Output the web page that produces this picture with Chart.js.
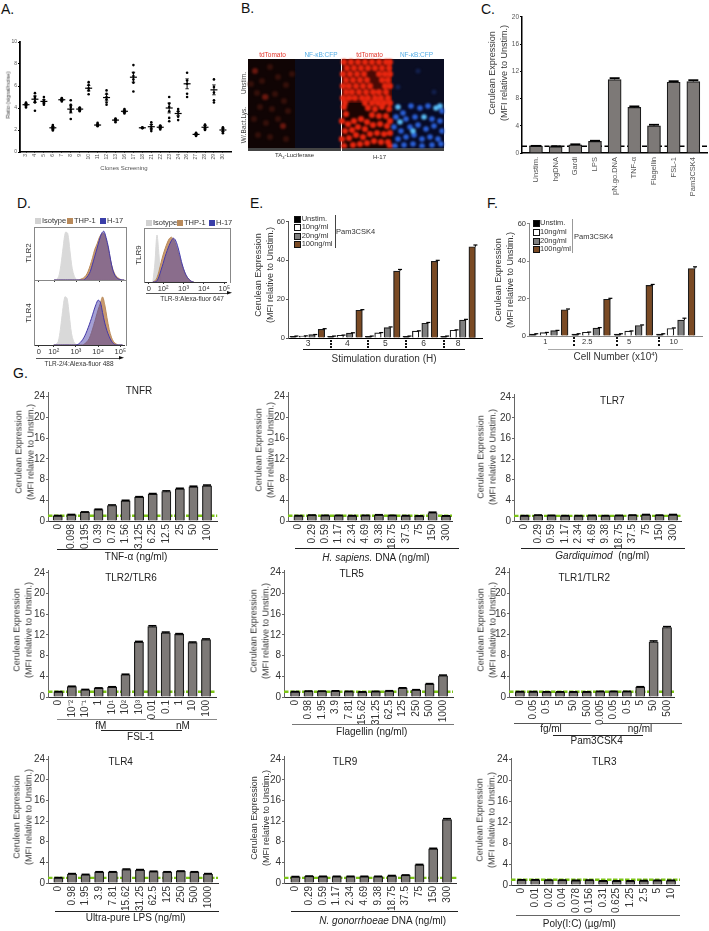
<!DOCTYPE html>
<html>
<head>
<meta charset="utf-8">
<title>Figure</title>
<script src="https://cdn.jsdelivr.net/npm/chart.js@4"></script>
<style>
  html, body { margin: 0; padding: 0; background: #fff; }
  #page { position: relative; width: 709px; height: 931px; overflow: hidden; font-family: "Liberation Sans", Arial, sans-serif; color: #222; filter: blur(0.3px); background: #fff; }
  #page canvas { position: absolute; }
  .t { position: absolute; white-space: nowrap; text-align: center; }
  .r { position: absolute; }
</style>
</head>
<body>
<div id="page"></div>
<script>
// Panel A - clone screening
const cloneLabels = ['3','4','5','6','7','8','9','10','11','12','13','16','17','18','21','22','23','24','26','27','28','29','30'];
const cloneMeans = [4.3,4.8,4.6,2.2,4.75,3.9,3.9,5.8,2.45,4.95,2.9,3.7,6.8,2.2,2.3,2.25,4.0,3.5,6.2,1.6,2.25,5.65,2.0];
const cloneErrs = [0.1,0.3,0.15,0.1,0.07,0.35,0.1,0.25,0.06,0.3,0.06,0.1,0.45,0.03,0.2,0.1,0.45,0.2,0.45,0.07,0.15,0.45,0.15];
const clonePoints = [
  [4.05,4.2,4.3,4.4,4.5],[3.75,4.5,4.6,4.9,5.05,5.35],[4.3,4.45,4.6,4.75,5.0],[1.95,2.05,2.15,2.25,2.35,2.45],
  [4.6,4.7,4.75,4.85,4.9],[3.0,3.65,3.85,4.1,4.3,4.7],[3.7,3.8,3.9,4.0,4.05],[5.25,5.6,5.8,6.1,6.35],
  [2.35,2.4,2.5,2.55,2.65],[4.3,4.5,4.8,5.0,5.3,5.6],[2.7,2.85,2.9,3.0,3.05],[3.5,3.6,3.7,3.8,3.9],
  [5.5,6.3,6.6,6.9,7.2,7.9],[2.15,2.2,2.2,2.25],[1.9,2.1,2.3,2.5,2.7],[2.05,2.2,2.25,2.35,2.4],
  [2.8,3.1,3.7,4.1,4.4,5.0],[2.9,3.2,3.5,3.7,3.9],[5.0,5.3,6.2,6.5,7.2],[1.45,1.55,1.6,1.7,1.75],
  [2.0,2.1,2.25,2.4,2.5],[4.5,4.7,5.4,5.9,6.6],[1.7,1.85,2,2.1,2.25]
];

// Panel B - cells seen in the micrographs
const dimRedCells = [[22,8],[14,22],[30,18],[38,26],[9,34],[18,38],[27,35],[36,42],[12,48],[24,50],[40,52],[6,60],[18,64],[30,60],[10,76],[22,78],[38,80],[44,15],[3,25]];
const midRedCells = [[7,12],[35,67],[17,38]];
const redCells = [
  [96,3],[103,3],[110,3],[117,3],[124,3],[131,3],[138,3],[142,3],[99,9],[106,9],[113,9],[120,9],[127,9],[134,9],[141,9],
  [95,15],[102,15],[109,15],[116,15],[131,15],[137,15],[142,15],[98,21],[105,21],[112,21],[119,21],[134,21],[140,21],
  [95,27],[101,27],[108,27],[115,27],[122,27],[137,27],[142,27],[98,33],[104,33],[111,33],[118,33],[125,33],[131,33],[138,33],
  [95,39],[101,39],[107,39],[114,39],[120,39],[127,39],[133,39],[140,39],[97,44],[117,44],[124,44],[130,44],[136,44],[142,44],
  [96,48],[98,55],[120,49],[127,50],[134,48],[141,50],[124,56],[131,57],[138,57],[94,62],[100,65],[106,62],[113,60],[119,63],[142,62],
  [97,72],[104,71],[110,68],[117,70],[125,66],[132,65],[139,67],[94,80],[101,79],[108,76],[115,78],[122,75],[129,74],[136,75],[142,74],
  [105,86],[112,85],[119,84],[126,82],[133,83],[140,83],[96,87],[142,87]
];
const blueCells = [[155,54],[163,47],[172,49],[180,47],[194,52],[148,58],[158,60],[167,58],[184,60],[192,62],[146,68],[153,72],[162,68],[170,66],[178,70],[186,67],[194,72],[150,80],[158,78],[166,76],[174,80],[182,78],[190,80],[147,87],[156,86],[165,85],[174,87],[184,86],[193,85]];
const brightBlueCells = [[188,49],[192,47],[152,63],[150,48],[165,72],[176,58]];
const faintBlueCells = [[186,33],[170,12],[150,28]];

// Panel C
const stimLabels = ['Unstim.','hgDNA','Gardi','LPS','pN.go.DNA','TNF-\u03b1','Flagellin','FSL-1','Pam3CSK4'];
const stimValues = [1,0.95,1.2,1.7,10.8,6.7,4,10.4,10.5];
const stimErrs = [0.05,0.05,0.08,0.1,0.2,0.15,0.15,0.15,0.2];

// Panel D - flow histograms, x is decades on the biexponential axis
const flowGrid = [2.0,2.1,2.2,2.3,2.4,2.5,2.6,2.7,2.8,2.9,3.0,3.1,3.2,3.3,3.4,3.5,3.6,3.7,3.8,3.9,4.0,4.1,4.2,4.3,4.4,4.5,4.6,4.7,4.8,4.9,5.0,5.1];
const tlr2Iso = [0,.01,.06,.28,.62,.9,.88,.55,.22,.06,.01,0,0,0,0,0,0,0,0,0,0,0,0,0,0,0,0,0,0,0,0,0];
const tlr2Thp = [0,0,0,0,0,0,0,0,0,0,0,0,.02,.04,.08,.16,.28,.42,.58,.68,.8,.87,.88,.76,.58,.36,.2,.1,.05,.02,0,0];
const tlr2H17 = [0,0,0,0,0,0,0,0,0,0,0,0,0,0,.03,.08,.16,.3,.45,.6,.75,.88,.92,.8,.62,.38,.18,.08,.03,.01,0,0];
const tlr4Iso = [0,.01,.05,.24,.52,.74,.72,.46,.18,.05,.01,0,0,0,0,0,0,0,0,0,0,0,0,0,0,0,0,0,0,0,0,0];
const tlr4Thp = [0,0,0,0,0,0,0,0,0,0,0,0,0,0,.02,.05,.1,.19,.3,.42,.54,.64,.74,.62,.42,.24,.12,.05,.02,0,0,0];
const tlr4H17 = [0,0,0,0,0,0,0,0,0,0,0,.01,.04,.08,.14,.22,.31,.41,.52,.62,.69,.66,.5,.34,.22,.13,.06,.02,0,0,0,0];
const tlr9Grid = [1.5,1.6,1.7,1.8,1.9,2.0,2.1,2.2,2.3,2.4,2.5,2.6,2.7,2.8,2.9,3.0,3.1,3.2,3.3,3.4,3.5];
const tlr9Iso = [0,.35,.87,.5,.03,0,0,0,0,0,0,0,0,0,0,0,0,0,0,0,0];
const tlr9Thp = [0,.02,.08,.2,.36,.5,.62,.72,.8,.83,.8,.72,.6,.47,.34,.23,.14,.08,.04,.01,0];
const tlr9H17 = [0,0,.02,.1,.22,.34,.47,.58,.68,.76,.81,.78,.68,.54,.38,.25,.15,.08,.04,.01,0];

// Panels E and F
const durationLabels = ['3','4','5','6','8'];
const durationValues = [0.8,1,1.7,4.5, 0.8,1.4,2.5,14.3, 0.8,2.6,5.4,34.5, 0.8,3.5,7.6,39.5, 0.8,4,9.2,47];
const durationErrs = [0.2,0.1,0.1,0.3, 0.2,0.1,0.2,0.3, 0.2,0.2,0.3,0.8, 0.2,0.2,0.4,0.5, 0.2,0.2,0.4,0.9];
const cellLabels = ['1','2.5','5','10'];
const cellValues = [1,1.8,2.9,14, 1,2,4.2,19.6, 1,2.6,5.6,27, 1,4,8.5,36];
const cellErrs = [0.2,0.1,0.1,0.4, 0.2,0.1,0.3,0.5, 0.2,0.1,0.3,0.5, 0.2,0.3,1,0.9];

// Panel G
const tnfDoses = ['0','0.098','0.195','0.39','0.78','1.56','3.125','6.25','12.5','25','50','100'];
const dnaDoses = ['0','0.29','0.59','1.17','2.34','4.69','9.38','18.75','37.5','75','150','300'];
const fslDoses = ['0','10\u207b\u00b2','10\u207b\u00b9','1','10\u00b9','10\u00b2','10\u00b3','0.01','0.1','1','10','100'];
const bacterialDoses = ['0','0.98','1.95','3.9','7.81','15.62','31.25','62.5','125','250','500','1000'];
const pamDoses = ['0','0.05','0.5','5','50','500','0.005','0.05','0.5','5','50','500'];
const polyDoses = ['0','0.01','0.02','0.04','0.078','0.156','0.31','0.625','1.25','2.5','5','10'];
const tnfrValues = [1,1.2,1.7,2.2,3,3.9,4.6,5.2,5.7,6.2,6.6,6.8];
const hsapiensValues = [1,1.1,1.05,1.05,1,1.05,1.15,1.05,1,0.95,1.6,0.95];
const tlr7Values = [1,1.1,1.05,1,1,1.05,1,1.05,1.1,1.2,1.1,1.2];
const tlr26Values = [1,2,1.4,1.7,1.9,4.3,10.6,13.6,12.4,12.1,10.5,11.1];
const tlr5Values = [1,1.1,1.1,1.15,1.05,0.95,1.05,1.15,1.7,1.35,2.5,4.1];
const tlr12Values = [1,1,0.95,0.95,0.95,0.95,1.05,1.05,1.05,1.9,10.6,13.4];
const tlr4Values = [1,1.75,1.6,2.1,2.1,2.6,2.5,2.2,2.1,2.25,2.1,1.75];
const tlr9Values = [1.2,1.3,1.25,1.25,1.25,1.25,1.25,1.4,1.5,3.5,6.6,12.3];
const tlr3Values = [0.95,0.95,0.9,0.9,0.85,0.9,0.75,0.75,0.75,0.8,0.85,0.85];
const tnfrErrs = [0.05,0.06,0.06,0.08,0.1,0.1,0.1,0.1,0.12,0.12,0.12,0.14];
const hsapiensErrs = [0.05,0.06,0.05,0.05,0.05,0.05,0.06,0.05,0.05,0.05,0.1,0.05];
const tlr7Errs = [0.05,0.06,0.05,0.05,0.05,0.05,0.05,0.05,0.06,0.06,0.05,0.06];
const tlr26Errs = [0.05,0.08,0.06,0.06,0.08,0.1,0.14,0.16,0.14,0.14,0.12,0.12];
const tlr5Errs = [0.05,0.06,0.05,0.05,0.05,0.05,0.05,0.06,0.08,0.06,0.08,0.12];
const tlr12Errs = [0.05,0.05,0.05,0.05,0.05,0.05,0.05,0.05,0.05,0.08,0.2,0.16];
const tlr4Errs = [0.05,0.07,0.07,0.08,0.08,0.1,0.1,0.08,0.08,0.08,0.08,0.07];
const tlr9Errs = [0.05,0.05,0.05,0.05,0.05,0.05,0.05,0.05,0.06,0.1,0.12,0.16];
const tlr3Errs = [0.05,0.05,0.05,0.05,0.05,0.05,0.05,0.05,0.05,0.05,0.05,0.05];

const FONT = '"Liberation Sans", Arial, sans-serif';
const BAR_GREY = '#7d7977';
const GROUP_COLORS = ['#000000','#ffffff','#7f7f7f','#7a4a24'];
const page = document.getElementById('page');

// error whiskers, drawn from the same scales as the bars
const errorBars = {
    id: 'errorBars',
    afterDatasetsDraw(chart) {
        const { ctx, scales } = chart;
        chart.data.datasets.forEach(ds => {
            if (!ds.errs) return;
            ctx.save();
            ctx.strokeStyle = '#000';
            ds.data.forEach((p, i) => {
                const x = scales.x.getPixelForValue(p.x);
                const hi = scales.y.getPixelForValue(p.y + ds.errs[i]);
                const lo = scales.y.getPixelForValue(ds.bothWays ? p.y - ds.errs[i] : p.y);
                ctx.lineWidth = 1;
                ctx.beginPath();
                ctx.moveTo(x, lo);
                ctx.lineTo(x, hi);
                ctx.stroke();
                ctx.lineWidth = ds.capLine;
                ctx.beginPath();
                ctx.moveTo(x - ds.capWidth / 2, hi);
                ctx.lineTo(x + ds.capWidth / 2, hi);
                if (ds.bothWays) {
                    ctx.moveTo(x - ds.capWidth / 2, lo);
                    ctx.lineTo(x + ds.capWidth / 2, lo);
                }
                ctx.stroke();
            });
            ctx.restore();
        });
    }
};
Chart.register(errorBars);

function text(html, x, y, o = {}) {
    const el = document.createElement('div');
    el.className = 't';
    el.innerHTML = html;
    el.style.left = x + 'px';
    el.style.top = y + 'px';
    el.style.fontSize = (o.size || 10) + 'px';
    el.style.color = o.color || '#222';
    el.style.lineHeight = (o.lead || (o.size || 10) * 1.15) + 'px';
    const shift = o.left ? 'translate(0,-50%)' : 'translate(-50%,-50%)';
    el.style.transform = shift + (o.rot ? ' rotate(-90deg)' : '');
    page.appendChild(el);
}

function rect(x, y, w, h, color, extra) {
    const el = document.createElement('div');
    el.className = 'r';
    el.style.cssText = `left:${x}px;top:${y}px;width:${w}px;height:${h}px;background:${color};` + (extra || '');
    page.appendChild(el);
}

function addCanvas(left, top, width, height) {
    const c = document.createElement('canvas');
    c.width = width;
    c.height = height;
    c.style.left = left + 'px';
    c.style.top = top + 'px';
    page.appendChild(c);
    return c;
}

// Shared axis options. Both scale boxes are forced to a fixed size so the
// chart area lands on the axis position measured from the figure.
function axisOptions(a, yMax, yTicks, xTickList, xLabelText) {
    return {
        x: {
            type: 'linear',
            offset: false,
            min: a.xMin,
            max: a.xMax,
            afterBuildTicks: s => { s.ticks = xTickList.map(v => ({ value: v })); },
            afterFit: s => { s.height = a.bottomRoom; },
            border: { display: true, color: a.xColor, width: a.xWidth },
            grid: { display: true, drawOnChartArea: false, drawTicks: a.xTickLen > 0, tickLength: a.xTickLen, color: a.xColor, offset: false },
            ticks: {
                autoSkip: false,
                minRotation: a.rotate ? 90 : 0,
                maxRotation: a.rotate ? 90 : 0,
                padding: a.xPad,
                color: a.tickColor,
                font: { family: FONT, size: a.xFont },
                callback: (v, i) => xLabelText[i]
            }
        },
        y: {
            type: 'linear',
            min: 0,
            max: yMax,
            afterBuildTicks: s => { s.ticks = yTicks.map(v => ({ value: v })); },
            afterFit: s => { s.width = a.leftRoom; },
            border: { display: true, color: a.yColor, width: a.yWidth },
            grid: { display: true, drawOnChartArea: false, tickLength: 2, color: a.yColor },
            ticks: {
                padding: 1,
                color: a.tickColor,
                font: { family: FONT, size: a.yFont },
                callback: v => v
            }
        }
    };
}

function barPanel(values, errs, labels, a) {
    const n = values.length;
    const step = (a.last - a.first) / (n - 1);
    a.xMin = (a.axisX - a.first) / step;
    a.xMax = n - 1 + (a.xEnd - a.last) / step;
    const yTicks = a.yTicks || [0, 4, 8, 12, 16, 20, 24];
    const topTick = yTicks[yTicks.length - 1];
    const yMax = topTick * (a.y0 - a.yTop) / (a.y0 - a.yTopTick);
    const left = Math.round(a.axisX) - a.leftRoom;
    const top = Math.round(a.yTop);
    const width = Math.round(a.xEnd) - left;
    const height = Math.round(a.y0) - top + a.bottomRoom;
    const tickVals = a.tickPix ? a.tickPix.map(px => (px - a.first) / step) : labels.map((_, i) => i);
    new Chart(addCanvas(left, top, width, height), {
        type: 'bar',
        data: {
            datasets: [
                {
                    data: values.map((y, x) => ({ x, y })),
                    errs: errs,
                    capWidth: a.capWidth,
                    capLine: a.capLine,
                    backgroundColor: a.colors ? values.map((_, i) => a.colors[i % a.colors.length]) : BAR_GREY,
                    borderColor: '#1c1c1c',
                    borderWidth: 1.2,
                    barThickness: a.barW,
                    order: 1
                },
                a.refColor ? {
                    type: 'line',
                    data: [{ x: a.xMin, y: a.refLevel }, { x: a.xMax, y: a.refLevel }],
                    borderColor: a.refColor,
                    borderWidth: a.refWidth,
                    borderDash: a.refDash,
                    pointRadius: 0,
                    order: 2
                } : { data: [], order: 3 }
            ]
        },
        options: {
            responsive: false,
            animation: false,
            events: [],
            layout: { autoPadding: false, padding: 0 },
            plugins: { legend: { display: false }, tooltip: { enabled: false } },
            scales: axisOptions(a, yMax, yTicks, tickVals, labels)
        }
    });
}

// dose-response panels of G all look alike
function dosePanel(values, errs, labels, g) {
    barPanel(values, errs, labels, Object.assign({
        yTicks: [0, 4, 8, 12, 16, 20, 24], leftRoom: 34, bottomRoom: 44, barW: 9.2, capWidth: 8, capLine: 1.6,
        refColor: '#7cc516', refLevel: 1, refWidth: 2.4, refDash: [4.5, 1.5],
        xColor: '#333', xWidth: 1, yColor: '#666', yWidth: 1, xTickLen: 0, xPad: 3, rotate: true,
        tickColor: '#333', xFont: 10, yFont: 10
    }, g));
    text('Cerulean Expression<br>(MFI relative to Unstim.)', g.labelX, g.labelY, { size: 9, lead: 11.5, rot: true, color: '#333' });
}

function flowPanel(grid, series, a) {
    const colors = [
        { line: '#4338a8', fill: 'rgba(75,65,170,0.5)' },
        { line: '#b98a5a', fill: 'rgba(190,135,85,0.85)' },
        { line: '#d9d9d9', fill: '#d9d9d9' }
    ];
    const xLabels = a.showLabels ? ['0', '10\u00b2', '10\u00b3', '10\u2074', '10\u2075'] : ['', '', '', '', ''];
    const opts = {
        xMin: a.xMin, xMax: a.xMax, bottomRoom: 14, leftRoom: 0,
        xColor: '#333', xWidth: 1, yColor: '#888', yWidth: 1, xTickLen: 2, xPad: 0, rotate: false,
        tickColor: '#333', xFont: 7.5, yFont: 7
    };
    const scales = axisOptions(opts, 1, [0, 1], a.ticks, xLabels);
    scales.y.display = false;
    new Chart(addCanvas(a.x, a.y, a.w, a.h + 14), {
        type: 'line',
        data: {
            datasets: series.map((vals, i) => ({
                data: vals.map((y, k) => ({ x: grid[k], y })),
                borderColor: colors[i].line,
                backgroundColor: colors[i].fill,
                borderWidth: 1,
                fill: 'origin',
                pointRadius: 0,
                tension: 0.3
            }))
        },
        options: {
            responsive: false,
            animation: false,
            events: [],
            layout: { autoPadding: false, padding: 0 },
            plugins: { legend: { display: false }, tooltip: { enabled: false } },
            scales
        }
    });
    rect(a.x, a.y, a.w - 1, a.h, 'transparent', 'border:1px solid #888;border-bottom:none;');
}

function flowLegend(items, y) {
    const swatches = ['#d2d2d2', '#b98a5a', '#3a3ea8'];
    const names = ['Isotype', 'THP-1', 'H-17'];
    items.forEach((px, i) => {
        rect(px, y - 3, 6, 6, swatches[i]);
        text(names[i], px + 7, y, { size: 7.5, left: true, color: '#333' });
    });
}

function groupLegend(x, ys, textX) {
    ['Unstim.', '10ng/ml', '20ng/ml', '100ng/ml'].forEach((name, i) => {
        rect(x, ys[i] - 3, 5, 5, GROUP_COLORS[i], 'border:1px solid #111;');
        text(name, textX, ys[i], { size: 7.5, left: true, color: '#333' });
    });
}

function dotted(x, y1, y2) {
    rect(x, y1, 0, y2 - y1, 'transparent', 'border-left:2px dotted #111;');
}

/* ---------- panel letters ---------- */
[['A.', 1, 9], ['B.', 241, 8], ['C.', 481, 9], ['D.', 17, 203], ['E.', 250, 203], ['F.', 487, 203], ['G.', 13, 373]].forEach(p => {
    text(p[0], p[1], p[2], { size: 14, left: true, color: '#111' });
});

/* ---------- A ---------- */
{
    const a = {
        axisX: 20, xEnd: 232, xMin: (20 - 26) / 8.95, xMax: (232 - 26) / 8.95, leftRoom: 14, bottomRoom: 14,
        xColor: '#000', xWidth: 1.5, yColor: '#000', yWidth: 1.8, xTickLen: 1, xPad: 1, rotate: true,
        tickColor: '#555', xFont: 5, yFont: 5
    };
    const scales = axisOptions(a, 10, [0, 2, 4, 6, 8, 10], cloneLabels.map((_, i) => i), cloneLabels);
    new Chart(addCanvas(6, 38, 226, 128), {
        type: 'scatter',
        data: {
            datasets: [
                {
                    data: clonePoints.flatMap((pts, i) => pts.map(y => ({ x: i, y }))),
                    backgroundColor: '#000',
                    borderWidth: 0,
                    pointRadius: 1.3
                },
                {
                    data: cloneMeans.map((y, x) => ({ x, y })),
                    errs: cloneErrs,
                    bothWays: true,
                    capWidth: 3.5,
                    capLine: 0.8,
                    pointStyle: 'line',
                    pointRadius: 3.5,
                    borderColor: '#000',
                    borderWidth: 1.2
                }
            ]
        },
        options: {
            responsive: false,
            animation: false,
            events: [],
            layout: { autoPadding: false, padding: 0 },
            plugins: { legend: { display: false }, tooltip: { enabled: false } },
            scales
        }
    });
    text('Ratio (signal/noise)', 8, 95, { size: 5.5, rot: true, color: '#444' });
    text('Clones Screening', 124, 167.5, { size: 6, color: '#555' });
}

/* ---------- B ---------- */
{
    rect(248, 59, 47, 89, '#100404');
    rect(295, 59, 46, 89, '#0b0d1e');
    rect(342, 59, 50, 44, '#4a0a05');
    rect(342, 103, 50, 45, '#1c0402');
    rect(392, 59, 52, 44, '#0a0d22');
    rect(392, 103, 52, 45, '#070a26');
    rect(248, 148, 93, 3, '#444');
    rect(342, 148, 102, 3, '#444');
    const cellSet = (cells, color, radius) => ({
        data: cells.map(c => ({ x: c[0], y: c[1] })),
        backgroundColor: color,
        borderWidth: 0,
        pointRadius: radius
    });
    const canvas = addCanvas(248, 59, 196, 89);
    canvas.style.filter = 'blur(0.9px)';
    new Chart(canvas, {
        type: 'scatter',
        data: {
            datasets: [
                cellSet(brightBlueCells, '#58bcf6', 2.8),
                cellSet(blueCells, '#2a60d8', 2.8),
                cellSet(faintBlueCells, '#12204e', 2.5),
                cellSet(redCells, '#e8260f', 3.1),
                cellSet(midRedCells, '#6a170e', 3),
                cellSet(dimRedCells, '#35100a', 3)
            ]
        },
        options: {
            responsive: false,
            animation: false,
            events: [],
            layout: { autoPadding: false, padding: 0 },
            plugins: { legend: { display: false }, tooltip: { enabled: false } },
            scales: {
                x: { type: 'linear', min: 0, max: 196, display: false },
                y: { type: 'linear', min: 0, max: 89, reverse: true, display: false }
            }
        }
    });
    text('tdTomato', 272.5, 55, { size: 6.5, color: '#e5352a' });
    text('NF-\u03baB:CFP', 321, 55, { size: 6.5, color: '#55aee6' });
    text('tdTomato', 369.5, 55, { size: 6.5, color: '#e5352a' });
    text('NF-\u03baB:CFP', 416.5, 55, { size: 6.5, color: '#55aee6' });
    text('Unstim.', 244, 83, { size: 6.5, rot: true, color: '#444' });
    text('W/.Bact.Lys.', 244, 125, { size: 6.5, rot: true, color: '#444' });
    text('TA<sub style="font-size:4px">3</sub>-Luciferase', 294.5, 157, { size: 6, color: '#333' });
    text('H-17', 379.5, 157, { size: 6, color: '#333' });
}

/* ---------- C ---------- */
barPanel(stimValues, stimErrs, stimLabels, {
    axisX: 521.7, xEnd: 708, y0: 153, yTop: 12, yTopTick: 12, yTicks: [0, 4, 8, 12, 16, 20],
    first: 535.7, last: 693.3, barW: 13, capWidth: 10, capLine: 1.8, leftRoom: 16, bottomRoom: 46,
    refColor: '#000', refLevel: 1, refWidth: 1.5, refDash: [5, 2.5],
    xColor: '#000', xWidth: 1.5, yColor: '#000', yWidth: 1.5, xTickLen: 0, xPad: 4, rotate: true,
    tickColor: '#555', xFont: 7.5, yFont: 6.5
});
text('Cerulean Expression<br>(MFI relative to Unstim.)', 498, 73, { size: 9, lead: 12, rot: true, color: '#333' });

/* ---------- D ---------- */
const flowTicks = [1.33, 2, 3, 4, 5];
flowPanel(flowGrid, [tlr2H17, tlr2Thp, tlr2Iso], { x: 34, y: 227, w: 92, h: 53, xMin: 1.11, xMax: 5.18, ticks: flowTicks, showLabels: false });
flowPanel(flowGrid, [tlr4H17, tlr4Thp, tlr4Iso], { x: 34, y: 280, w: 92, h: 65, xMin: 1.11, xMax: 5.18, ticks: flowTicks, showLabels: true });
flowPanel(tlr9Grid, [tlr9H17, tlr9Thp, tlr9Iso], { x: 144, y: 228, w: 86, h: 54, xMin: 1.065, xMax: 5.09, ticks: [1.3, 2, 3, 4, 5], showLabels: true });
flowLegend([35, 67, 100], 221);
flowLegend([146, 177, 209], 223);
text('TLR2', 29, 253, { size: 8, rot: true, color: '#333' });
text('TLR4', 29, 313, { size: 8, rot: true, color: '#333' });
text('TLR9', 139, 255, { size: 8, rot: true, color: '#333' });
rect(36, 357.5, 84, 1, '#555');
rect(119, 356, 5, 3.5, '#111', 'clip-path:polygon(0 0,100% 50%,0 100%);');
rect(146, 292.5, 82, 1, '#555');
rect(227, 291, 5, 3.5, '#111', 'clip-path:polygon(0 0,100% 50%,0 100%);');
text('TLR-2/4:Alexa-fluor 488', 79, 364, { size: 6.5, color: '#333' });
text('TLR-9:Alexa-fluor 647', 192, 299, { size: 6.5, color: '#333' });

/* ---------- E ---------- */
barPanel(durationValues, durationErrs, durationLabels, {
    axisX: 288.3, xEnd: 483.3, y0: 338.3, yTop: 216, yTopTick: 216, yTicks: [0, 20, 40, 60],
    first: 296.7, last: 475.7, barW: 6.5, capWidth: 4, capLine: 1.2, leftRoom: 14, bottomRoom: 14,
    tickPix: [308.3, 347.7, 385.7, 424, 458.3], colors: GROUP_COLORS,
    xColor: '#000', xWidth: 1, yColor: '#555', yWidth: 1, xTickLen: 0, xPad: 1, rotate: false,
    tickColor: '#333', xFont: 8.5, yFont: 7.5
});
text('Cerulean Expression<br>(MFI relative to Unstim.)', 264, 275, { size: 9, lead: 11.5, rot: true, color: '#333' });
[330.3, 367.3, 405.3, 443.3].forEach(x => dotted(x, 340, 348));
rect(302.7, 349, 162.3, 0.8, '#111');
text('Stimulation duration (H)', 384, 358.5, { size: 10, color: '#333' });
groupLegend(294, [218.7, 227.3, 235.7, 244.3], 301.7);
rect(335, 215, 0.8, 32.7, '#444');
text('Pam3CSK4', 336, 232.3, { size: 7.5, left: true, color: '#333' });

/* ---------- F ---------- */
barPanel(cellValues, cellErrs, cellLabels, {
    axisX: 529, xEnd: 703.3, y0: 336, yTop: 218.3, yTopTick: 218.3, yTicks: [0, 20, 40, 60],
    first: 536.3, last: 695.3, barW: 6.8, capWidth: 4, capLine: 1.2, leftRoom: 14, bottomRoom: 14,
    tickPix: [545.3, 587.3, 629.3, 674], colors: GROUP_COLORS,
    xColor: '#888', xWidth: 1, yColor: '#888', yWidth: 1, xTickLen: 0, xPad: 1, rotate: false,
    tickColor: '#333', xFont: 7.5, yFont: 7.5
});
text('Cerulean Expression<br>(MFI relative to Unstim.)', 504, 279.5, { size: 9, lead: 11.5, rot: true, color: '#333' });
[573.3, 616, 658.3].forEach(x => dotted(x, 337, 346));
rect(548.3, 348.5, 134.4, 1.5, '#aaa');
text('Cell Number (x10<sup style="font-size:6px">4</sup>)', 615.7, 356, { size: 10, color: '#333' });
groupLegend(532.7, [223.3, 232, 240.7, 249.3], 540);
rect(572, 219.3, 1.2, 33.4, '#999');
text('Pam3CSK4', 574, 236.7, { size: 7.5, left: true, color: '#333' });

/* ---------- G ---------- */
dosePanel(tnfrValues, tnfrErrs, tnfDoses, { axisX: 48.3, xEnd: 222, y0: 521, yTop: 385, yTopTick: 390, first: 58.3, last: 211.3, labelX: 24.8, labelY: 451.7 });
text('TNFR', 139, 391, { color: '#222' });
rect(57, 549, 161, 0.8, '#222');
text('TNF-\u03b1 (ng/ml)', 136, 556.7, { color: '#222' });

dosePanel(hsapiensValues, hsapiensErrs, dnaDoses, { axisX: 288.3, xEnd: 460.7, y0: 521, yTop: 385, yTopTick: 390, first: 299.3, last: 454.3, labelX: 264.5, labelY: 450 });
rect(295, 548, 164.3, 0.8, '#222');
text('<i>H. sapiens.</i> DNA (ng/ml)', 376, 558.3, {});

dosePanel(tlr7Values, tlr7Errs, dnaDoses, { axisX: 514, xEnd: 687.7, y0: 521, yTop: 386.7, yTopTick: 390, first: 525, last: 679.3, labelX: 487.2, labelY: 456.7 });
text('TLR7', 612.3, 400.7, {});
rect(521, 548, 164, 0.8, '#222');
text('<i>Gardiquimod</i>&nbsp; (ng/ml)', 602.3, 555.5, {});

dosePanel(tlr26Values, tlr26Errs, fslDoses, { axisX: 48.3, xEnd: 220.7, y0: 696.7, yTop: 563, yTopTick: 565.9, first: 59, last: 210.3, labelX: 23.2, labelY: 630 });
text('TLR2/TLR6', 131, 577.7, {});
rect(57, 719, 89, 1.4, '#888');
rect(150, 719, 66.7, 1.4, '#888');
text('fM', 100.7, 725.7, {});
text('nM', 183, 725.7, {});
rect(100.7, 730, 81, 0.8, '#222');
text('FSL-1', 140.7, 736.7, {});

dosePanel(tlr5Values, tlr5Errs, bacterialDoses, { axisX: 284.3, xEnd: 458.3, y0: 697.3, yTop: 563, yTopTick: 565.7, first: 295.7, last: 448, labelX: 260, labelY: 631 });
text('TLR5', 351.7, 574.3, {});
rect(292.3, 723.7, 161.7, 1.2, '#777');
text('Flagellin (ng/ml)', 371.7, 731.7, {});

dosePanel(tlr12Values, tlr12Errs, pamDoses, { axisX: 509.3, xEnd: 681.7, y0: 697.3, yTop: 561, yTopTick: 565.7, first: 520.7, last: 674.3, labelX: 486.5, labelY: 630 });
text('TLR1/TLR2', 584.3, 577.7, {});
rect(514, 723, 77, 0.9, '#555');
rect(601.7, 723, 80.6, 0.9, '#555');
text('fg/ml', 551, 729, {});
text('ng/ml', 640, 729, {});
rect(553, 735, 89.7, 0.8, '#222');
text('Pam3CSK4', 596.7, 741, {});

dosePanel(tlr4Values, tlr4Errs, bacterialDoses, { axisX: 48.3, xEnd: 223.3, y0: 883.3, yTop: 749.3, yTopTick: 752.5, first: 59, last: 213, labelX: 23.3, labelY: 816.7 });
text('TLR4', 120.7, 761.7, {});
rect(55, 911.3, 164, 0.8, '#222');
text('Ultra-pure LPS (ng/ml)', 135.7, 918.3, {});

dosePanel(tlr9Values, tlr9Errs, dnaDoses, { axisX: 284.3, xEnd: 461.7, y0: 883.3, yTop: 749, yTopTick: 752.3, first: 296, last: 451.7, labelX: 259.5, labelY: 818 });
text('TLR9', 345, 762.3, {});
rect(290.7, 910.7, 167, 0.8, '#222');
text('<i>N. gonorrhoeae</i> DNA (ng/ml)', 382.7, 920.7, {});

dosePanel(tlr3Values, tlr3Errs, polyDoses, { axisX: 510.7, xEnd: 686, y0: 885, yTop: 751, yTopTick: 752.3, first: 521.7, last: 676.7, labelX: 485.5, labelY: 820 });
text('TLR3', 604.3, 762.3, {});
rect(515.7, 914.5, 164.3, 1, '#666');
text('Poly(I:C) (\u00b5g/ml)', 579.3, 924, {});
</script>
</body>
</html>
